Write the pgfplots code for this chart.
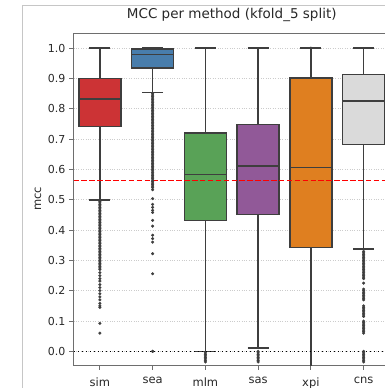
\documentclass[border=0pt]{standalone}
\usepackage{fontspec}
\setmainfont{DejaVu Sans}
\usepackage{pgfplots}
\pgfplotsset{compat=1.18}
\usepgfplotslibrary{statistics}
\definecolor{cred}{RGB}{204,51,53}
\definecolor{cblue}{RGB}{72,125,172}
\definecolor{cgreen}{RGB}{89,162,87}
\definecolor{cpurple}{RGB}{145,89,152}
\definecolor{corange}{RGB}{223,127,32}
\definecolor{cgrey}{RGB}{218,218,218}
\definecolor{boxgray}{RGB}{62,62,62}
\definecolor{spinegray}{RGB}{110,110,110}
\definecolor{txt}{RGB}{40,40,40}
\begin{document}
\begin{tikzpicture}
\useasboundingbox (0pt,0pt) rectangle (385pt,-388pt);
\clip (0pt,0pt) rectangle (385pt,-388pt);
\draw[color=gray!45, line width=0.9pt] (22pt,-5pt) rectangle (430pt,-430pt);
\begin{axis}[
  at={(73.5pt,-33pt)}, anchor=north west,
  scale only axis, width=316.5pt, height=332pt,
  xmin=-0.5, xmax=5.5, ymin=-0.045, ymax=1.05,
  xtick={0,1,2,3,4,5}, xticklabels={sim,sea,mlm,sas,xpi,cns},
  ytick={0,0.1,0.2,0.3,0.4,0.5,0.6,0.7,0.8,0.9,1.0},
  yticklabel style={/pgf/number format/fixed, /pgf/number format/fixed zerofill, /pgf/number format/precision=1, /pgf/number format/assume math mode=true},
  tick label style={font=\fontsize{11}{13}\selectfont, text=txt},
  xticklabel style={yshift=-4.5pt, font=\fontsize{11.5}{13}\selectfont},
  tick align=outside, tick pos=left, major tick length=4.5pt,
  tick style={color=spinegray, line width=0.8pt},
  axis line style={color=spinegray, line width=0.9pt},
  ymajorgrids, major grid style={dotted, color=gray!40, line width=0.7pt},
  title={MCC per method (kfold\_5 split)},
  title style={font=\fontsize{13.5}{15}\selectfont, text=txt, anchor=base, at={(0.5,1)}, yshift=8.5pt},
  ylabel={mcc},
  ylabel style={font=\fontsize{11.5}{13}\selectfont, text=txt, at={(axis description cs:-0.112,0.5)}, anchor=center},
  boxplot/draw direction=y,
  boxplot/box extend=0.8, boxplot/whisker extend=0.4,
  every axis plot/.append style={draw=boxgray, line width=1.5pt, mark=*, mark size=1.4pt, mark options={draw=boxgray, fill=boxgray, line width=0.3pt}},
]
% sim
\addplot[fill=cred, boxplot prepared={draw direction=y, draw position=0, lower whisker=0.50, lower quartile=0.742, median=0.832, upper quartile=0.90, upper whisker=1.0}]
 table[row sep=\\, y index=0] {y\\ 0.495\\ 0.49\\ 0.485\\ 0.48\\ 0.475\\ 0.47\\ 0.465\\ 0.46\\ 0.455\\ 0.45\\ 0.445\\ 0.44\\ 0.435\\ 0.43\\ 0.425\\ 0.42\\ 0.415\\ 0.41\\ 0.405\\ 0.40\\ 0.395\\ 0.39\\ 0.385\\ 0.38\\ 0.375\\ 0.37\\ 0.365\\ 0.36\\ 0.355\\ 0.35\\ 0.345\\ 0.34\\ 0.335\\ 0.33\\ 0.325\\ 0.32\\ 0.315\\ 0.31\\ 0.305\\ 0.30\\ 0.295\\ 0.29\\ 0.285\\ 0.28\\ 0.275\\ 0.27\\ 0.26\\ 0.25\\ 0.24\\ 0.232\\ 0.22\\ 0.21\\ 0.20\\ 0.19\\ 0.18\\ 0.17\\ 0.158\\ 0.15\\ 0.145\\ 0.092\\ 0.06\\};
% sea
\addplot[fill=cblue, boxplot prepared={draw direction=y, draw position=1, lower whisker=0.854, lower quartile=0.935, median=0.979, upper quartile=0.998, upper whisker=1.0}]
 table[row sep=\\, y index=0] {y\\ 0.85\\ 0.845\\ 0.84\\ 0.835\\ 0.83\\ 0.825\\ 0.82\\ 0.815\\ 0.81\\ 0.805\\ 0.80\\ 0.795\\ 0.79\\ 0.785\\ 0.78\\ 0.775\\ 0.77\\ 0.765\\ 0.76\\ 0.755\\ 0.75\\ 0.745\\ 0.74\\ 0.735\\ 0.73\\ 0.725\\ 0.72\\ 0.715\\ 0.71\\ 0.705\\ 0.70\\ 0.695\\ 0.69\\ 0.685\\ 0.68\\ 0.675\\ 0.67\\ 0.665\\ 0.66\\ 0.655\\ 0.65\\ 0.645\\ 0.64\\ 0.635\\ 0.63\\ 0.625\\ 0.62\\ 0.615\\ 0.61\\ 0.605\\ 0.60\\ 0.595\\ 0.59\\ 0.585\\ 0.58\\ 0.575\\ 0.57\\ 0.565\\ 0.56\\ 0.555\\ 0.55\\ 0.545\\ 0.54\\ 0.533\\ 0.504\\ 0.485\\ 0.475\\ 0.465\\ 0.458\\ 0.432\\ 0.413\\ 0.383\\ 0.372\\ 0.36\\ 0.322\\ 0.256\\ 0.0\\ 0.0\\};
% mlm
\addplot[fill=cgreen, boxplot prepared={draw direction=y, draw position=2, lower whisker=0.0, lower quartile=0.432, median=0.584, upper quartile=0.721, upper whisker=1.0}]
 table[row sep=\\, y index=0] {y\\ -0.005\\ -0.01\\ -0.015\\ -0.02\\ -0.025\\ -0.03\\ -0.035\\};
% sas
\addplot[fill=cpurple, boxplot prepared={draw direction=y, draw position=3, lower whisker=0.011, lower quartile=0.452, median=0.612, upper quartile=0.748, upper whisker=1.0}]
 table[row sep=\\, y index=0] {y\\ 0.0\\ -0.005\\ -0.01\\ -0.015\\ -0.02\\ -0.025\\ -0.03\\ -0.035\\};
% xpi
\addplot[fill=corange, mark=none, boxplot prepared={draw direction=y, draw position=4, lower whisker=-0.06, lower quartile=0.342, median=0.606, upper quartile=0.902, upper whisker=1.0}]
 table[row sep=\\, y index=0] {y\\ 1.0\\};
% cns
\addplot[fill=cgrey, boxplot prepared={draw direction=y, draw position=5, lower whisker=0.337, lower quartile=0.682, median=0.825, upper quartile=0.913, upper whisker=1.0}]
 table[row sep=\\, y index=0] {y\\ 0.33\\ 0.325\\ 0.32\\ 0.315\\ 0.31\\ 0.305\\ 0.30\\ 0.295\\ 0.29\\ 0.285\\ 0.28\\ 0.275\\ 0.27\\ 0.265\\ 0.26\\ 0.255\\ 0.25\\ 0.245\\ 0.24\\ 0.225\\ 0.205\\ 0.20\\ 0.195\\ 0.19\\ 0.185\\ 0.18\\ 0.175\\ 0.17\\ 0.15\\ 0.145\\ 0.14\\ 0.135\\ 0.13\\ 0.125\\ 0.12\\ 0.115\\ 0.10\\ 0.095\\ 0.09\\ 0.085\\ 0.08\\ 0.075\\ 0.07\\ 0.065\\ 0.06\\ 0.0\\ -0.005\\ -0.01\\ -0.015\\ -0.02\\ -0.025\\ -0.03\\ -0.035\\};
% reference lines
\addplot[red, line width=1.5pt, dash pattern=on 5.5pt off 2.4pt, mark=none] coordinates {(-0.5,0.564) (5.5,0.564)};
\addplot[black, line width=1.5pt, dash pattern=on 1.5pt off 2.5pt, mark=none] coordinates {(-0.5,0.0) (5.5,0.0)};
\end{axis}
\end{tikzpicture}
\end{document}
